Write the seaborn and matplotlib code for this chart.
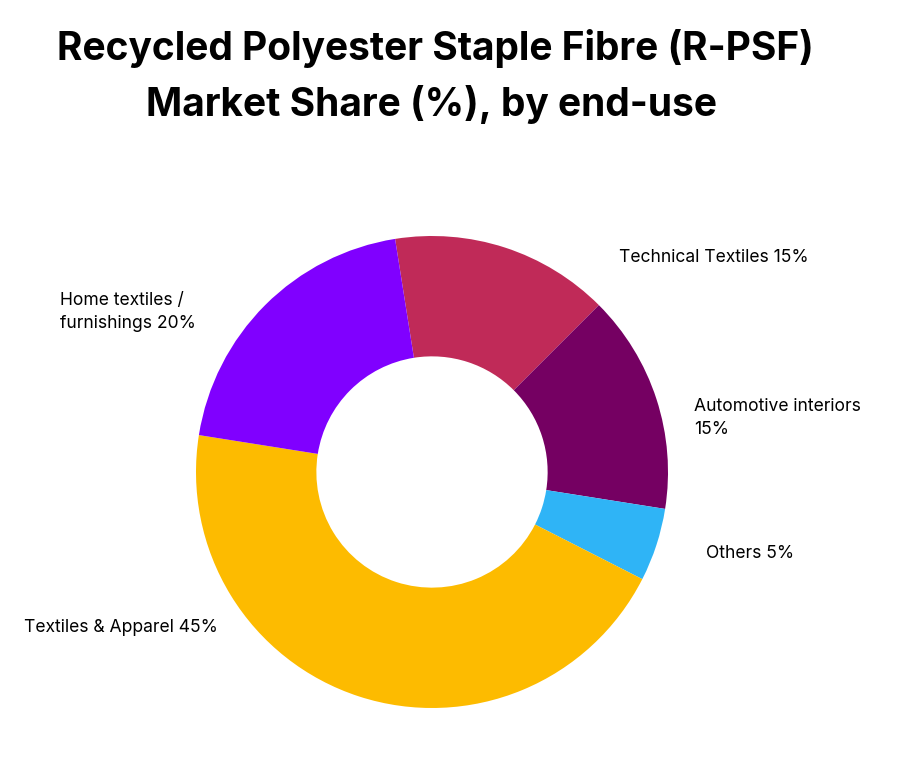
import matplotlib
matplotlib.use("Agg")
import matplotlib.pyplot as plt
import seaborn as sns

# ── Data ─────────────────────────────────────────────
segments = ["Technical Textiles", "Automotive interiors", "Others",
            "Textiles & Apparel", "Home textiles / furnishings"]
shares = [15, 15, 5, 45, 20]
label_texts = ["Technical Textiles 15%", "Automotive interiors\n15%", "Others 5%",
               "Textiles & Apparel 45%", "Home textiles /\nfurnishings 20%"]
colors = sns.color_palette(["#C02A58", "#750062", "#2FB4F6", "#FDBB00", "#8000FF"])

sns.set_theme(style="white")
plt.rcParams["font.family"] = ["Inter", "DejaVu Sans"]

W, H = 908, 759
fig = plt.figure(figsize=(W / 100, H / 100), dpi=100)
fig.patch.set_facecolor("white")

cx, cy, r = 432, 472, 236
ax = fig.add_axes([(cx - r) / W, (H - cy - r) / H, 2 * r / W, 2 * r / H])
ax.pie(shares, colors=colors, startangle=99, counterclock=False,
       wedgeprops=dict(width=0.51, edgecolor="none"))
ax.set_xlim(-1, 1)
ax.set_ylim(-1, 1)
ax.axis("off")

# label positions (pixels, top-left anchor)
label_pos = [(619, 257), (694, 418), (706, 553), (24, 627), (60, 312)]
for txt, (x, y) in zip(label_texts, label_pos):
    fig.text(x / W, 1 - y / H, txt, fontsize=12.6, color="black",
             ha="left", va="center", linespacing=1.5)

fig.text(435 / W, 1 - 48 / H, "Recycled Polyester Staple Fibre (R-PSF)",
         fontsize=28, fontweight="bold", ha="center", va="center", color="black")
fig.text(432 / W, 1 - 105 / H, "Market Share (%), by end-use",
         fontsize=28, fontweight="bold", ha="center", va="center", color="black")

fig.savefig("out.png", dpi=100, facecolor="white")
